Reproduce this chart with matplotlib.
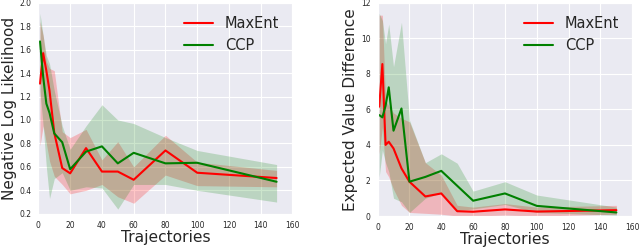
"""Negative log likelihood and expected value difference vs. trajectories."""

import matplotlib
matplotlib.use("Agg")
import matplotlib.pyplot as plt
import seaborn as sns

trajectories = [1, 3, 5, 7, 10, 15, 20, 30, 40, 50, 60, 80, 100, 150]

# left panel: negative log likelihood
nll_maxent = [1.31, 1.57, 1.42, 1.25, 0.89, 0.59, 0.545, 0.76, 0.56, 0.56, 0.49, 0.74, 0.55, 0.505]
nll_maxent_lo = [0.78, 0.95, 0.80, 0.65, 0.52, 0.45, 0.37, 0.40, 0.45, 0.345, 0.29, 0.53, 0.44, 0.43]
nll_maxent_hi = [1.84, 1.72, 1.50, 1.44, 1.42, 0.90, 0.85, 0.92, 0.66, 0.815, 0.60, 0.87, 0.64, 0.57]
nll_ccp = [1.67, 1.37, 1.14, 1.06, 0.885, 0.81, 0.58, 0.73, 0.775, 0.63, 0.72, 0.63, 0.635, 0.473]
nll_ccp_lo = [1.25, 0.95, 0.60, 0.33, 0.50, 0.55, 0.40, 0.43, 0.42, 0.24, 0.45, 0.45, 0.40, 0.30]
nll_ccp_hi = [1.91, 1.72, 1.55, 1.48, 1.25, 0.95, 0.75, 0.95, 1.13, 1.00, 0.97, 0.85, 0.74, 0.62]

# right panel: expected value difference
evd_maxent = [6.15, 8.55, 4.0, 4.18, 3.8, 2.68, 1.93, 1.1, 1.27, 0.27, 0.24, 0.37, 0.25, 0.33]
evd_maxent_lo = [3.5, 5.0, 2.5, 2.2, 1.5, 0.6, 0.2, 0.15, 0.1, 0.0, 0.0, 0.05, 0.0, 0.1]
evd_maxent_hi = [11.3, 11.3, 6.5, 6.2, 5.8, 5.5, 5.3, 3.0, 2.3, 0.6, 0.5, 0.7, 0.5, 0.6]
evd_ccp = [5.68, 5.55, 6.2, 7.24, 4.8, 6.05, 1.93, 2.2, 2.54, 1.7, 0.86, 1.27, 0.57, 0.2]
evd_ccp_lo = [2.2, 3.7, 3.0, 2.5, 1.0, 0.8, 0.2, 1.0, 1.3, 0.3, 0.4, 0.65, 0.2, 0.05]
evd_ccp_hi = [11.4, 11.0, 9.7, 10.8, 8.4, 10.9, 5.4, 3.0, 3.5, 2.97, 1.4, 1.93, 1.18, 0.5]

sns.set_style("darkgrid")

fig = plt.figure(figsize=(6.4, 2.48), dpi=100)
ax_nll = fig.add_axes([0.060, 0.138, 0.397, 0.851])
ax_evd = fig.add_axes([0.590, 0.129, 0.398, 0.860])


def draw_panel(ax, mean_a, lo_a, hi_a, mean_b, lo_b, hi_b):
    ax.fill_between(trajectories, lo_a, hi_a, color="red", alpha=0.22, linewidth=0)
    ax.fill_between(trajectories, lo_b, hi_b, color="green", alpha=0.2, linewidth=0)
    ax.plot(trajectories, mean_a, color="red", lw=1.5, label="MaxEnt")
    ax.plot(trajectories, mean_b, color="green", lw=1.5, label="CCP")
    ax.set_xlim(0, 160)
    ax.set_xlabel("Trajectories", fontsize=11.2, labelpad=0)
    ax.tick_params(labelsize=5.5, pad=1.5)
    ax.legend(loc="upper right", frameon=False, fontsize=10.5)


draw_panel(ax_nll, nll_maxent, nll_maxent_lo, nll_maxent_hi,
           nll_ccp, nll_ccp_lo, nll_ccp_hi)
ax_nll.set_ylim(0.2, 2.0)
ax_nll.set_yticks([0.2, 0.4, 0.6, 0.8, 1.0, 1.2, 1.4, 1.6, 1.8, 2.0])
ax_nll.set_ylabel("Negative Log Likelihood", fontsize=11, labelpad=2)

draw_panel(ax_evd, evd_maxent, evd_maxent_lo, evd_maxent_hi,
           evd_ccp, evd_ccp_lo, evd_ccp_hi)
ax_evd.set_ylim(0, 12)
ax_evd.set_yticks([0, 2, 4, 6, 8, 10, 12])
ax_evd.set_ylabel("Expected Value Difference", fontsize=11, labelpad=2)

fig.savefig("out.png", dpi=100)
plt.close(fig)
